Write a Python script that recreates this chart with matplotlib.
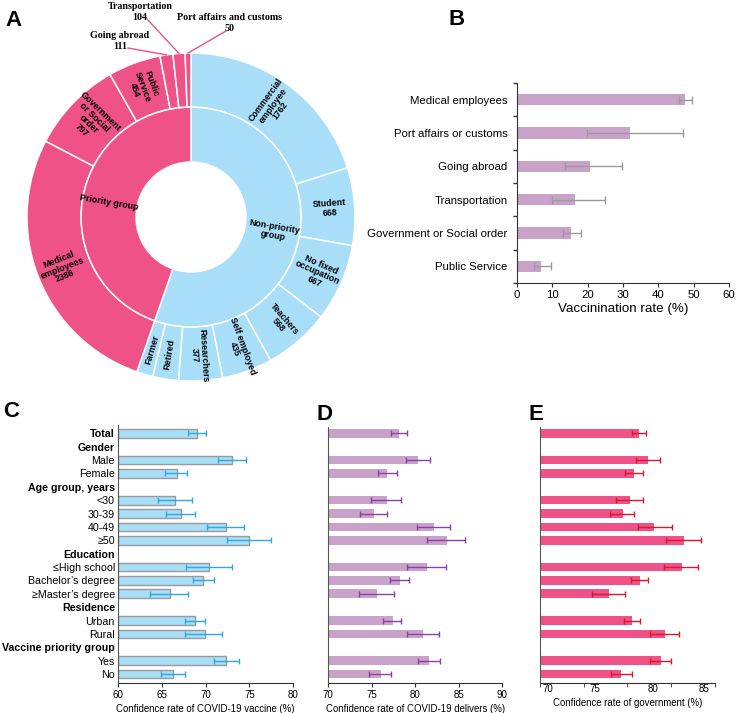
import numpy as np
import matplotlib
matplotlib.use('Agg')
import matplotlib.pyplot as plt

plt.rcParams['font.family'] = ['Liberation Sans', 'DejaVu Sans']

W, H = 738, 713
nan = np.nan

# ---------------- data ----------------
# Panel A: occupations (clockwise from 12 o'clock)
nonprio_names = ['Commercial\nemployee', 'Student', 'No fixed\noccupation', 'Teachers',
                 'Self employed', 'Researchers', 'Retired', 'Farmer']
nonprio_counts = [1762, 668, 667, 568, 435, 377, 221, 140]
prio_names = ['Medical\nemployees', 'Government\nor Social\norder', 'Public\nService',
              'Going abroad', 'Transportation', 'Port affairs and customs']
prio_counts = [2386, 797, 454, 111, 104, 50]
group_names = ['Non-priority\ngroup', 'Priority group']
no_count_shown = ['Retired', 'Farmer']
outside_names = ['Going abroad', 'Transportation', 'Port affairs and customs']

# Panel B: vaccination rate
b_labels = ['Medical employees', 'Port affairs or customs', 'Going abroad',
            'Transportation', 'Government or Social order', 'Public Service']
b_rate = [47.6, 32.1, 20.8, 16.4, 15.4, 6.9]
b_low = [45.8, 19.7, 13.7, 9.8, 12.9, 4.7]
b_high = [49.6, 47.0, 29.7, 25.0, 18.0, 9.6]

# Panels C-E: rows
rows = ['Total', 'Gender', 'Male', 'Female', 'Age group, years', '<30', '30-39', '40-49', '≥50',
        'Education', '≤High school', 'Bachelor’s degree', '≥Master’s degree',
        'Residence', 'Urban', 'Rural', 'Vaccine priority group', 'Yes', 'No']
bold_rows = ['Total', 'Gender', 'Age group, years', 'Education', 'Residence', 'Vaccine priority group']

vaccine_val = [69.0, nan, 73.0, 66.7, nan, 66.5, 67.2, 72.3, 75.0, nan, 70.4, 69.7, 65.9, nan, 68.8, 69.9, nan, 72.3, 66.3]
vaccine_low = [68.0, nan, 71.4, 65.4, nan, 64.6, 65.5, 70.1, 72.4, nan, 67.8, 68.5, 63.7, nan, 67.7, 67.7, nan, 70.9, 64.9]
vaccine_high = [70.0, nan, 74.6, 67.9, nan, 68.4, 68.8, 74.4, 77.5, nan, 73.0, 71.0, 68.0, nan, 69.9, 71.9, nan, 73.8, 67.7]

deliver_val = [78.1, nan, 80.3, 76.8, nan, 76.7, 75.2, 82.1, 83.6, nan, 81.3, 78.2, 75.6, nan, 77.4, 80.9, nan, 81.6, 76.1]
deliver_low = [77.2, nan, 78.9, 75.7, nan, 74.9, 73.6, 80.2, 81.3, nan, 79.1, 77.1, 73.5, nan, 76.3, 79.0, nan, 80.3, 74.7]
deliver_high = [79.0, nan, 81.7, 77.9, nan, 78.3, 76.7, 84.0, 85.7, nan, 83.5, 79.3, 77.5, nan, 78.3, 82.7, nan, 82.8, 77.2]

gov_val = [81.3, nan, 82.4, 80.8, nan, 80.3, 79.5, 83.1, 86.5, nan, 86.2, 81.4, 77.9, nan, 80.5, 84.3, nan, 83.8, 79.3]
gov_low = [80.5, nan, 81.0, 79.7, nan, 78.7, 78.0, 81.2, 84.4, nan, 84.2, 80.4, 76.0, nan, 79.6, 82.6, nan, 82.6, 78.1]
gov_high = [82.1, nan, 83.7, 81.8, nan, 81.8, 80.8, 85.1, 88.4, nan, 88.1, 82.4, 79.7, nan, 81.5, 85.9, nan, 85.0, 80.5]

PINK = '#EE5286'
BLUE = '#A9DEF8'

fig = plt.figure(figsize=(W / 100, H / 100), dpi=100)


def px_axes(l, t, r, b):
    return fig.add_axes([l / W, 1 - b / H, (r - l) / W, (b - t) / H])


def radial_rot(theta):
    t = (theta + 180) % 360 - 180
    if t > 90:
        t -= 180
    elif t < -90:
        t += 180
    return t


# ---------------- panel A: donut ----------------
R = 164.0
cx, cy = 191, 217
axA = px_axes(cx - 1.1 * R, cy - 1.1 * R, cx + 1.1 * R, cy + 1.1 * R)

outer_names = nonprio_names + prio_names
outer_counts = nonprio_counts + prio_counts
outer_colors = [BLUE] * len(nonprio_counts) + [PINK] * len(prio_counts)
total = sum(outer_counts)

axA.pie(outer_counts, radius=1.0, startangle=90, counterclock=False, colors=outer_colors,
        wedgeprops=dict(width=0.33, edgecolor='white', linewidth=1.1))
group_counts = [sum(nonprio_counts), sum(prio_counts)]
axA.pie(group_counts, radius=0.67, startangle=90, counterclock=False, colors=[BLUE, PINK],
        wedgeprops=dict(width=0.335, edgecolor='white', linewidth=1.1))

cum = np.cumsum([0] + outer_counts)
mids = [90 - (cum[i] + outer_counts[i] / 2) / total * 360 for i in range(len(outer_counts))]

for name, cnt, th in zip(outer_names, outer_counts, mids):
    if name in outside_names:
        continue
    txt = name if name in no_count_shown else f'{name}\n{cnt}'
    r = 0.845
    axA.text(r * np.cos(np.radians(th)), r * np.sin(np.radians(th)), txt,
             rotation=radial_rot(th), rotation_mode='anchor', ha='center', va='center',
             fontsize=6.4, fontweight='bold', linespacing=1.0)

gcum = np.cumsum([0] + group_counts)
for i, name in enumerate(group_names):
    th = 90 - (gcum[i] + group_counts[i] / 2) / total * 360
    axA.text(0.51 * np.cos(np.radians(th)), 0.51 * np.sin(np.radians(th)), name,
             rotation=radial_rot(th), rotation_mode='anchor', ha='center', va='center',
             fontsize=6.4, fontweight='bold', linespacing=1.0)

# labels for the thin slices, placed above the ring (pixel positions)
out_text_px = {'Going abroad': (120, 41), 'Transportation': (140, 12),
               'Port affairs and customs': (230, 23)}
out_line_px = {'Going abroad': (128, 48), 'Transportation': (147, 19),
               'Port affairs and customs': (226, 31)}
for name, cnt, th in zip(outer_names, outer_counts, mids):
    if name not in outside_names:
        continue
    tx, ty = out_text_px[name]
    lx, ly = out_line_px[name]
    axA.text((tx - cx) / R, (cy - ty) / R, f'{name}\n{cnt}', ha='center', va='center',
             fontsize=7.2, fontweight='bold', family='Liberation Serif', linespacing=1.15,
             clip_on=False)
    axA.plot([(lx - cx) / R, np.cos(np.radians(th))], [(cy - ly) / R, np.sin(np.radians(th))],
             color=PINK, lw=1, clip_on=False)

axA.set_xlim(-1.1, 1.1)
axA.set_ylim(-1.1, 1.1)
axA.set_aspect('equal')
axA.axis('off')

# ---------------- panel B ----------------
axB = px_axes(517, 83, 729, 283)
yb = np.arange(len(b_labels))
b_rate_a = np.array(b_rate)
axB.barh(yb, b_rate_a, height=0.34, color='#C9A2CA')
axB.errorbar(b_rate_a, yb, xerr=[b_rate_a - np.array(b_low), np.array(b_high) - b_rate_a],
             fmt='none', ecolor='#9A9A9A', elinewidth=1, capsize=3, capthick=1)
axB.set_ylim(len(b_labels) - 0.5, -0.5)
axB.set_xlim(0, 60)
axB.set_xticks(range(0, 61, 10))
axB.set_yticks(np.arange(-0.5, len(b_labels)), labels=[])
axB.set_yticks(yb, labels=b_labels, minor=True)
axB.tick_params(axis='y', which='minor', length=0, pad=6.7, labelsize=8.2)
axB.tick_params(axis='y', which='major', length=3, width=1, color='#333333')
axB.tick_params(axis='x', length=3, labelsize=8.2, pad=2, color='#333333')
axB.set_xlabel('Vaccinination rate (%)', fontsize=9.6, labelpad=2)
for s in ['top', 'right']:
    axB.spines[s].set_visible(False)
for s in ['left', 'bottom']:
    axB.spines[s].set_color('#333333')


# ---------------- panels C-E ----------------
def row_panel(box, val, low, high, xlim, bar_color, err_color, edge, xlabel, ytop):
    ax = px_axes(*box)
    y = np.arange(len(rows))
    v = np.array(val)
    ax.barh(y, v - xlim[0], left=xlim[0], height=0.65, color=bar_color,
            edgecolor=edge if edge else bar_color, linewidth=1 if edge else 0)
    ax.errorbar(v, y, xerr=[v - np.array(low), np.array(high) - v], fmt='none',
                ecolor=err_color, elinewidth=1, capsize=2.3, capthick=1)
    ax.set_xlim(*xlim)
    ax.set_ylim(18 + 0.65, ytop)
    for s in ['top', 'right']:
        ax.spines[s].set_visible(False)
    ax.spines['left'].set_color('#555555')
    ax.spines['bottom'].set_color('#333333')
    ax.tick_params(axis='x', length=3, labelsize=7, pad=2, color='#333333')
    ax.set_xlabel(xlabel, fontsize=6.9, labelpad=3)
    return ax


axC = row_panel((118, 425, 293.3, 682.7), vaccine_val, vaccine_low, vaccine_high, (60, 80),
                BLUE, '#29ABE2', '#9A9A9A', 'Confidence rate of COVID-19 vaccine (%)', -0.62)
axC.set_xticks(range(60, 81, 5))
axC.set_yticks(range(len(rows)), labels=rows)
axC.tick_params(axis='y', length=0, pad=2.2, labelsize=7.7)
for lab in axC.get_yticklabels():
    if lab.get_text() in bold_rows:
        lab.set_fontweight('bold')

axD = row_panel((328.3, 427, 502.3, 682.7), deliver_val, deliver_low, deliver_high, (70, 90),
                '#C9A2CA', '#8B3FA8', None, 'Confidence rate of COVID-19 delivers (%)', -0.47)
axD.set_xticks(range(70, 91, 5))
axD.set_yticks([])

axE = row_panel((540, 427, 714.7, 682.7), gov_val, gov_low, gov_high, (70, 90),
                PINK, '#D7192D', None, 'Confidence rate of government (%)', -0.47)
axE.set_yticks([])
axE.set_xticks(range(70, 91, 5), minor=True)
axE.set_xticks([70.9, 76.3, 82.9, 88.8], labels=['70', '75', '80', '85'])
axE.tick_params(axis='x', which='major', length=0, pad=1)
axE.tick_params(axis='x', which='minor', length=3, color='#333333')

# ---------------- panel letters ----------------
for letter, (lx, by) in {'A': (5, 26), 'B': (448, 25), 'C': (3, 417),
                         'D': (317, 420), 'E': (528, 420)}.items():
    fig.text(lx / W, 1 - by / H, letter, fontsize=16, fontweight='bold',
             ha='left', va='baseline')

fig.savefig('out.png', dpi=100)
